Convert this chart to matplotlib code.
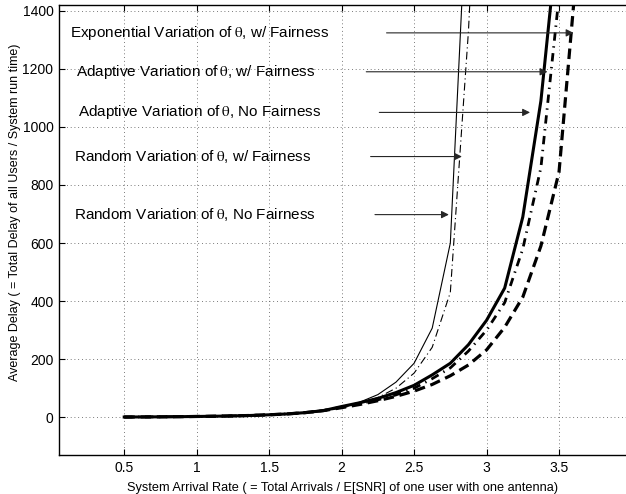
import matplotlib
matplotlib.use("Agg")
import matplotlib.pyplot as plt
import numpy as np

plt.rcParams['font.family'] = ['Liberation Sans', 'DejaVu Sans']
plt.rcParams['mathtext.fontset'] = 'stix'

# x values (System Arrival Rate)
x_common = [0.5, 0.625, 0.75, 0.875, 1.0, 1.125, 1.25, 1.375, 1.5, 1.625, 1.75, 1.875]
y_common = [0.8, 1.1, 1.5, 2.0, 2.7, 3.5, 4.7, 6.2, 8.5, 11.5, 16, 23]

# Random Variation, w/ Fairness (thin solid)
x_rand_wf = x_common + [2.0, 2.125, 2.25, 2.375, 2.5, 2.625, 2.75, 2.875]
y_rand_wf = y_common + [36, 52, 78, 121, 186, 307, 600, 1900]

# Random Variation, No Fairness (thin dash-dot)
x_rand_nf = x_common + [2.0, 2.125, 2.25, 2.375, 2.5, 2.625, 2.75, 2.875, 3.0]
y_rand_nf = y_common + [34, 48, 68, 100, 152, 241, 430, 1330, 2600]

# Adaptive Variation, w/ Fairness (thick solid)
x_adap_wf = x_common + [2.0, 2.125, 2.25, 2.375, 2.5, 2.625, 2.75, 2.875, 3.0, 3.125, 3.25, 3.375, 3.5]
y_adap_wf = y_common + [37, 50, 65, 85, 110, 146, 186, 250, 334, 445, 690, 1090, 1700]

# Adaptive Variation, No Fairness (thick dash-dot)
x_adap_nf = x_common + [2.0, 2.125, 2.25, 2.375, 2.5, 2.625, 2.75, 2.875, 3.0, 3.125, 3.25, 3.375, 3.5, 3.625]
y_adap_nf = y_common + [35, 47, 60, 77, 100, 133, 170, 228, 300, 395, 580, 860, 1450, 2600]

# Exponential Variation, w/ Fairness (thick dashed)
x_exp_wf = x_common + [2.0, 2.125, 2.25, 2.375, 2.5, 2.625, 2.75, 2.875, 3.0, 3.125, 3.25, 3.375, 3.5, 3.625]
y_exp_wf = y_common + [33, 44, 57, 72, 90, 113, 143, 180, 232, 310, 414, 590, 845, 1560]

labels = [
    r"Exponential Variation of$\;\mathrm{\theta}$, w/ Fairness",
    r"Adaptive Variation of$\;\mathrm{\theta}$, w/ Fairness",
    r"Adaptive Variation of$\;\mathrm{\theta}$, No Fairness",
    r"Random Variation of$\;\mathrm{\theta}$, w/ Fairness",
    r"Random Variation of$\;\mathrm{\theta}$, No Fairness",
]
label_x = [0.126, 0.168, 0.182, 0.154, 0.154]
label_y = [1324, 1190, 1050, 898, 698]
arrow_start_x = [2.31, 2.17, 2.26, 2.20, 2.23]
arrow_end_x = [3.60, 3.42, 3.30, 2.83, 2.74]

xticks = [0.5, 1, 1.5, 2, 2.5, 3, 3.5]
xtick_labels = ["0.5", "1", "1.5", "2", "2.5", "3", "3.5"]
yticks = [0, 200, 400, 600, 800, 1000, 1200, 1400]

fig = plt.figure(figsize=(6.26, 4.94), dpi=100)
ax = fig.add_axes([59/626, 39/494, (631.5-59)/626, 450/494])

ax.plot(x_rand_wf, y_rand_wf, color='black', lw=0.8, ls='-')
ax.plot(x_rand_nf, y_rand_nf, color='black', lw=0.8, ls=(0, (7, 3, 1, 3)))
ax.plot(x_adap_wf, y_adap_wf, color='black', lw=2.2, ls='-')
ax.plot(x_adap_nf, y_adap_nf, color='black', lw=2.0, ls=(0, (3, 2, 0.5, 2)))
ax.plot(x_exp_wf, y_exp_wf, color='black', lw=2.3, ls=(0, (3.3, 1.8)))

for lab, lx, ly, sx, ex in zip(labels, label_x, label_y, arrow_start_x, arrow_end_x):
    ax.text(lx, ly, lab, fontsize=11, va='center', ha='left')
    ax.annotate('', xy=(ex, ly), xytext=(sx, ly),
                arrowprops=dict(arrowstyle='-|>', color='0.15', lw=0.8,
                                mutation_scale=11, shrinkA=0, shrinkB=0))

ax.set_xlim(0.05, 4.0)
ax.set_ylim(-130, 1420)
ax.set_xticks(xticks)
ax.set_xticklabels(xtick_labels)
ax.set_yticks(yticks)
ax.tick_params(direction='in', length=4, width=0.8, top=True, right=False,
               labelsize=10, pad=4)
ax.grid(True, color='0.3', lw=0.6, ls=(0, (1, 3.5)))
for sp in ax.spines.values():
    sp.set_linewidth(1.0)
ax.spines['right'].set_visible(False)

ax.set_xlabel("System Arrival Rate ( = Total Arrivals / E[SNR] of one user with one antenna)",
              fontsize=9.2)
ax.set_ylabel("Average Delay ( = Total Delay of all Users / System run time)",
              fontsize=9.0)
ax.xaxis.set_label_coords((343 - 59) / (631.5 - 59), -0.06)
ax.yaxis.set_label_coords(-0.066, (494 - 39 - 212) / 450)

fig.savefig("out.png", dpi=100)
